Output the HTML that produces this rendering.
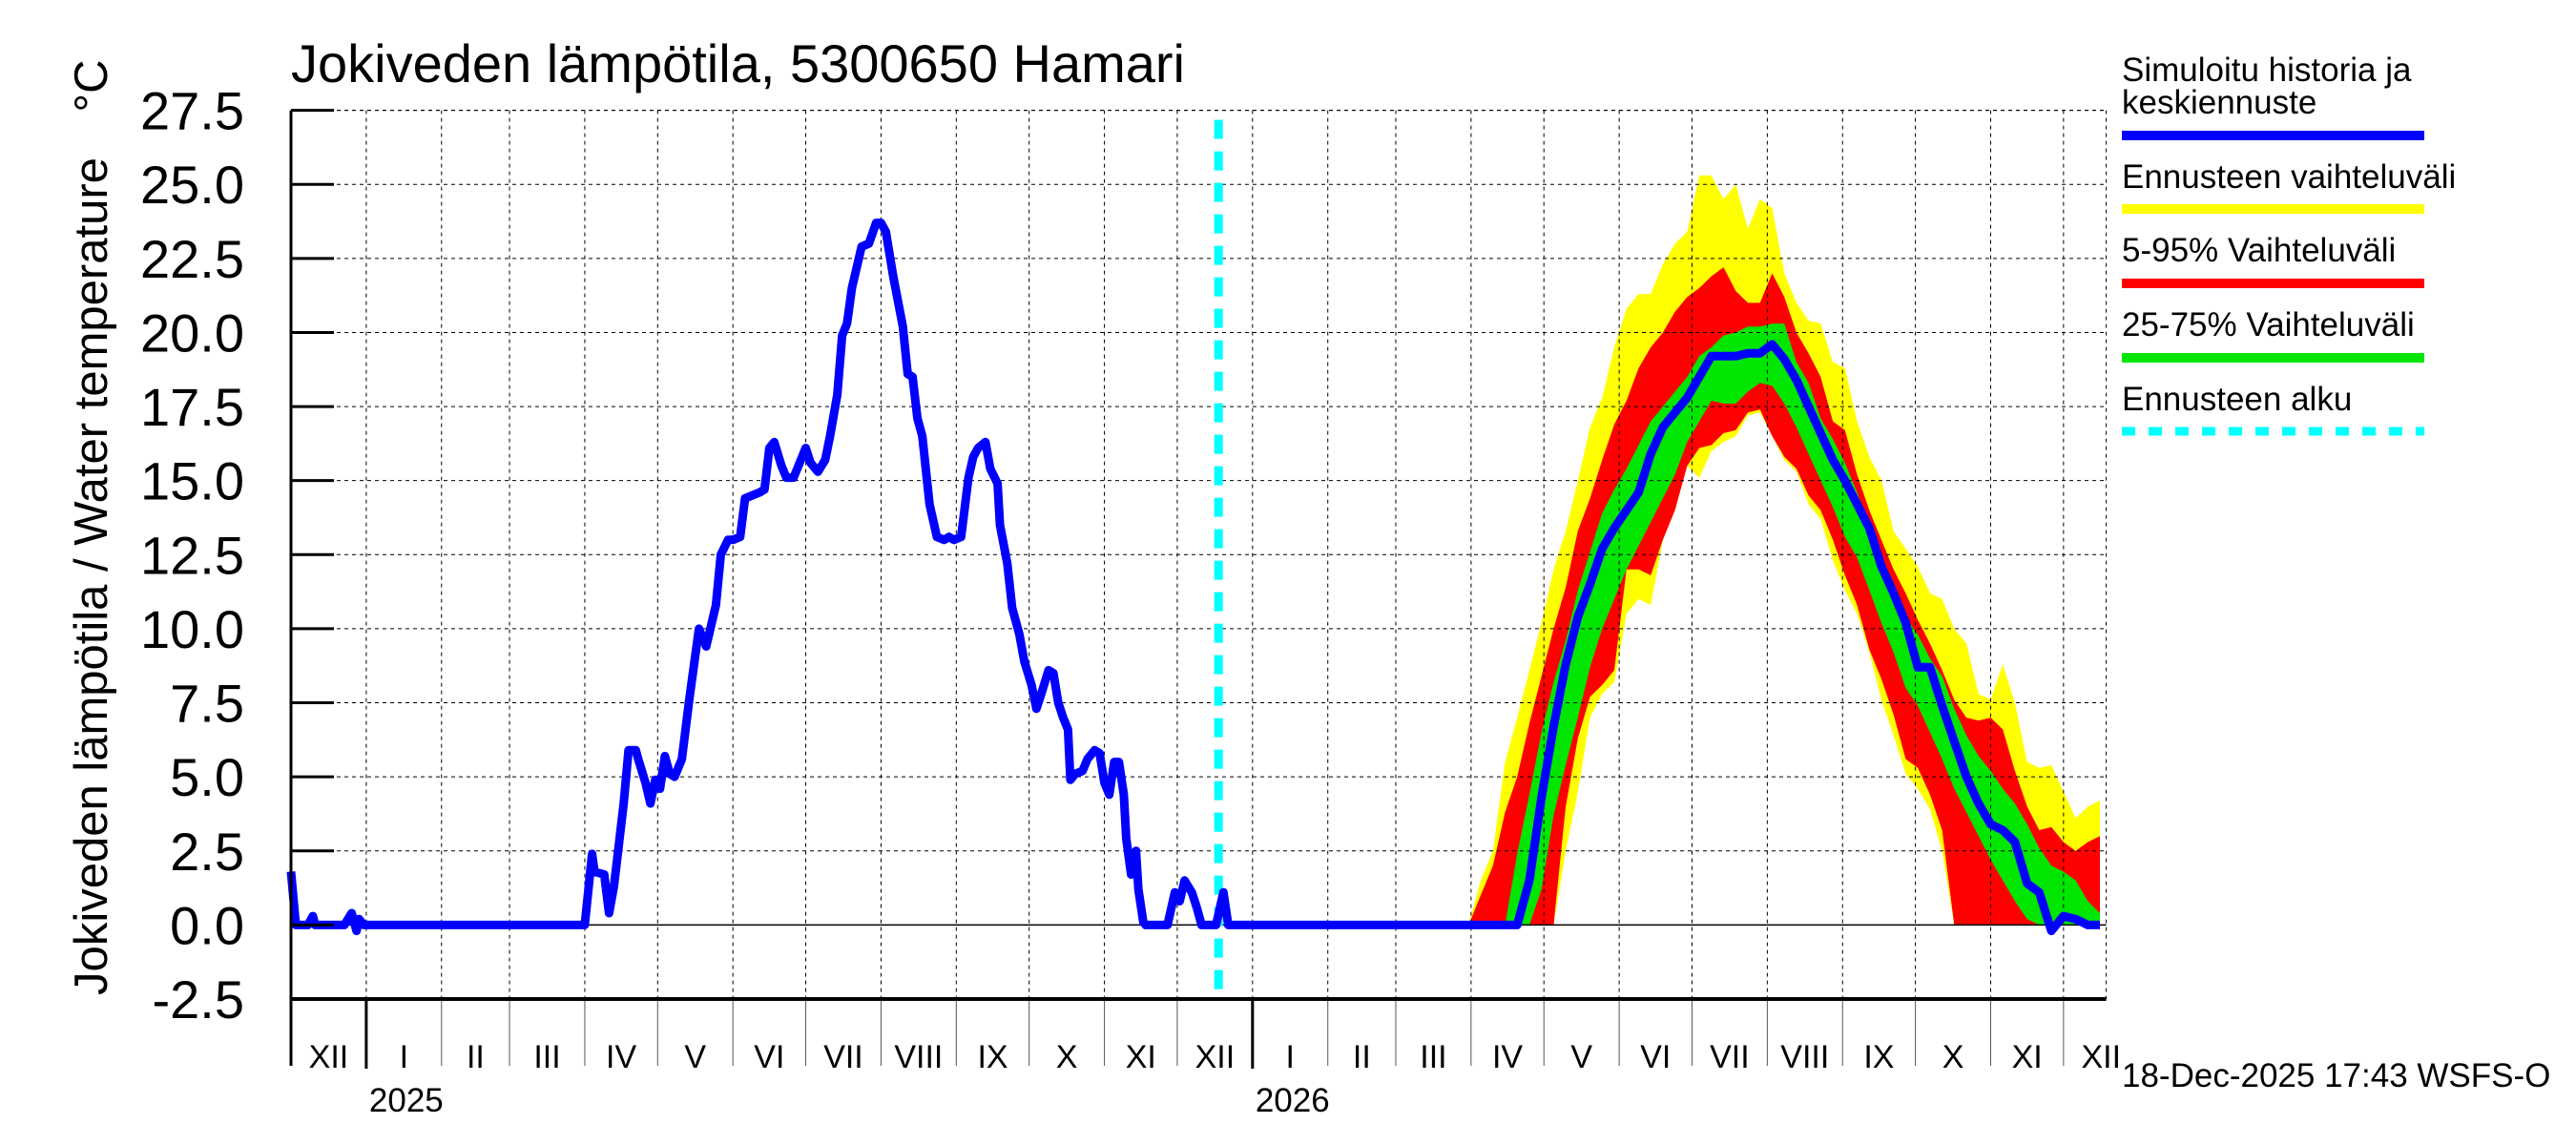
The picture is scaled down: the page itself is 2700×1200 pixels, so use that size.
<!DOCTYPE html>
<html><head><meta charset="utf-8"><style>
html,body{margin:0;padding:0;background:#fff;}
svg{display:block;font-family:"Liberation Sans",Arial,sans-serif;}
</style></head><body>
<svg id="chart" width="2700" height="1200" viewBox="0 0 2700 1200" xmlns="http://www.w3.org/2000/svg">
<rect x="0" y="0" width="2700" height="1200" fill="#fff"/>
<g id="bands"></g><g id="grid"></g><g id="lines"></g><g id="axes"></g>
<text x="305" y="86" font-size="56">Jokiveden lämpötila, 5300650 Hamari</text>
<text transform="translate(112,604) rotate(-90)" text-anchor="middle" font-size="49">Jokiveden lämpötila / Water temperature</text>
<text transform="translate(112,90) rotate(-90)" text-anchor="middle" font-size="49">°C</text>
<g font-size="35">
<text x="2224" y="85">Simuloitu historia ja</text>
<text x="2224" y="119">keskiennuste</text>
<rect x="2224" y="137" width="317" height="10" fill="#0000ff"/>
<text x="2224" y="197">Ennusteen vaihteluväli</text>
<rect x="2224" y="214" width="317" height="10" fill="#ffff00"/>
<text x="2224" y="274">5-95% Vaihteluväli</text>
<rect x="2224" y="292" width="317" height="10" fill="#ff0000"/>
<text x="2224" y="352">25-75% Vaihteluväli</text>
<rect x="2224" y="370" width="317" height="10" fill="#00e600"/>
<text x="2224" y="430">Ennusteen alku</text>
<line x1="2224" y1="452" x2="2541" y2="452" stroke="#00ffff" stroke-width="9" stroke-dasharray="14,14"/>
</g>
<text x="2224" y="1139" font-size="35">18-Dec-2025 17:43 WSFS-O</text>
</svg>
<script>
const yTicks = [-2.5,0,2.5,5,7.5,10,12.5,15,17.5,20,22.5,25,27.5];
const monthLabels = ["XII","I","II","III","IV","V","VI","VII","VIII","IX","X","XI","XII","I","II","III","IV","V","VI","VII","VIII","IX","X","XI","XII"];
const monthLengths = [31,31,28,31,30,31,30,31,31,30,31,30,31,31,28,31,30,31,30,31,31,30,31,30,31];
const yearLabels = ["2025","2026"];
const yearStartDays = [31,396];
const forecastStartDay = 382;
const histDays = [0,2,7,9,10,22,25,27,28,30,121,124,125,129,131,133,137,139,142,143,146,148,150,152,154,156,158,161,164,166,168,171,175,177,180,182,185,187,190,193,195,197,199,202,204,207,209,212,214,217,220,222,225,227,229,231,235,238,241,243,245,248,252,254,256,258,260,263,266,269,271,273,276,279,281,283,286,288,291,292,295,297,300,302,305,307,309,312,314,316,318,320,321,323,326,328,331,333,335,337,339,341,343,344,346,348,349,351,352,361,364,366,368,371,373,375,381,384,386,485];
const histVals = [1.8,0,0,0.3,0,0,0.4,-0.2,0.2,0,0,2.4,1.8,1.7,0.4,1.3,4.1,5.9,5.9,5.6,4.8,4.1,4.9,4.6,5.7,5.1,5.0,5.6,7.6,8.8,10.0,9.4,10.8,12.5,13.0,13.0,13.1,14.4,14.5,14.6,14.7,16.1,16.3,15.5,15.1,15.1,15.5,16.1,15.6,15.3,15.7,16.5,17.9,19.9,20.3,21.5,22.9,23.0,23.7,23.7,23.4,21.9,20.2,18.6,18.5,17.1,16.5,14.2,13.1,13.0,13.1,13.0,13.1,15.1,15.8,16.1,16.3,15.4,14.9,13.5,12.2,10.7,9.8,8.9,8.1,7.3,7.8,8.6,8.5,7.5,7.0,6.6,4.9,5.1,5.2,5.6,5.9,5.8,4.8,4.4,5.5,5.5,4.4,2.9,1.7,2.5,1.2,0.1,0,0,1.1,0.8,1.5,1.1,0.6,0,0,1.1,0,0];
const fcStart = 485, fcStep = 5;
const yellowHi = [0,1.5,2.5,5.5,7,8.6,10.2,12,13.3,15,16.8,17.8,19.5,20.8,21.3,21.3,22.3,23,23.4,25.3,25.3,24.5,25,23.5,24.5,24.2,22,21,20.4,20.3,19,18.8,17,15.8,15,13.3,12.7,12.1,11.2,11,10,9.5,7.8,7.6,8.8,7.5,5.5,5.3,5.4,4.5,3.6,4,4.2];
const yellowLo = [0,0,0,0,0,0,0,0,2.5,4.5,7,7.8,8.2,10.5,11,10.8,13,14,15.5,15.1,16,16.3,16.5,17.2,17.3,16.5,15.7,15.3,14.2,13.7,12.3,11.3,10.5,9.2,7.6,6.4,5.1,4.6,3.9,2.5,0,0,0,0,0,0,0,0,0,0,0,0,0];
const redHi = [0,1,2,3.8,5,6.8,8.4,10,11.4,13.3,14.4,15.7,16.9,17.7,18.8,19.5,20,20.7,21.2,21.5,21.9,22.2,21.4,21,21,22,21.2,20,19.3,18.5,17,16.7,15.2,14,13,12,11.2,10.3,9.5,8.6,7.6,7,6.9,7,6.6,5.2,4,3.2,3.3,2.8,2.5,2.8,3];
const redLo = [0,0,0,0,0,0,0,0,4,6.3,7.7,8.1,8.6,12,12,11.8,13,14,15.5,16.1,16.2,16.6,16.7,17.3,17.4,16.5,15.8,15.4,14.5,14,13,11.8,10.8,9.3,8.3,7.1,5.6,5.3,4.4,3.2,0,0,0,0,0,0,0,0,0,0,0,0,0];
const greenHi = [0,0,0,0,2.4,4.4,6.5,8.2,9.6,11.3,12.6,13.9,14.7,15.4,16.2,17,17.5,18,18.5,19.2,19.5,19.9,20,20.2,20.2,20.3,20.3,19,18.3,17.1,16.4,15.6,14.6,13.4,12.3,11.4,10.4,9.8,9,8.4,7.3,6.4,5.7,5.2,4.6,4.1,3.4,2.6,2,1.8,1.5,0.8,0.4];
const greenLo = [0,0,0,0,0,0,1.2,3.7,5.4,7,8.7,10,11,12,12.8,13.6,14.4,15.2,16.3,17,17.7,17.6,17.6,18,18.3,18.2,17.6,16.8,15.9,15,14.1,13.1,12.4,11.3,10.2,9.2,8,7.4,6.5,5.6,4.6,3.8,3,2.2,1.5,0.8,0.2,0,0,0,0,0,0];
const median = [0,0,0,0,0,1.5,4.3,6.7,8.8,10.4,11.5,12.7,13.4,14,14.6,15.9,16.8,17.3,17.8,18.5,19.2,19.2,19.2,19.3,19.3,19.6,19.1,18.4,17.5,16.6,15.7,15,14.2,13.4,12.1,11.2,10.2,8.7,8.7,7.4,6.2,5,4.1,3.4,3.2,2.8,1.4,1.1,-0.2,0.3,0.2,0,0];

const NS="http://www.w3.org/2000/svg";
const X0=305, X1=2207.6, PXD=2.545, YTOP=115.6, YBOT=1047;
const xs = d => X0 + d*PXD;
const ys = v => YBOT - (v+2.5)*(YBOT-YTOP)/30;
function mk(tag, attrs, parent){const e=document.createElementNS(NS,tag);for(const k in attrs)e.setAttribute(k,attrs[k]);parent.appendChild(e);return e;}
const gB=document.getElementById('bands'), gG=document.getElementById('grid'), gL=document.getElementById('lines'), gA=document.getElementById('axes');
const fcDay = k => Math.min(fcStart+k*fcStep, (X1-X0)/PXD);
function band(hi, lo, color, name){
  let pts=[];
  hi.forEach((v,k)=>pts.push(xs(fcDay(k)).toFixed(1)+','+ys(v).toFixed(1)));
  for(let k=lo.length-1;k>=0;k--) pts.push(xs(fcDay(k)).toFixed(1)+','+ys(lo[k]).toFixed(1));
  const p=mk('polygon',{points:pts.join(' '),fill:color},gB);
  
  
}
band(yellowHi,yellowLo,'#ffff00','band-forecast-range');
band(redHi,redLo,'#ff0000','band-5-95');
band(greenHi,greenLo,'#00e600','band-25-75');
yTicks.forEach(v=>{
  if(v===-2.5) return;
  const l=mk('line',{x1:X0,x2:X1,y1:ys(v),y2:ys(v),stroke:'#000','stroke-width':v===0?1.5:1,'stroke-dasharray':v===0?'none':'4,4'},gG);
  
  
});
let d=0;
monthLabels.forEach((lab,i)=>{
  const len=monthLengths[i];
  const xa=xs(d);
  if(i>0){
    const l=mk('line',{x1:xa,x2:xa,y1:YTOP,y2:YBOT,stroke:'#000','stroke-width':1,'stroke-dasharray':'4,4'},gG);
    
    
  }
  const isYear = yearStartDays.includes(d);
  const t=mk('line',{x1:xa,x2:xa,y1:YBOT,y2:isYear?1120:1117,stroke:isYear?'#000':'#555','stroke-width':isYear?3:1},gA);
  
  
  const tx=mk('text',{x:(xs(d)+xs(d+len))/2,y:1119,'text-anchor':'middle','font-size':34},gA);
  tx.textContent=lab;
  
  
  d+=len;
});
yearLabels.forEach((y,i)=>{
  const t=mk('text',{x:xs(yearStartDays[i])+3,y:1165,'font-size':35},gA);
  t.textContent=y;
  
  
});
mk('line',{x1:X1,x2:X1,y1:YTOP,y2:YBOT,stroke:'#000','stroke-width':1,'stroke-dasharray':'4,4'},gG);
mk('line',{x1:X0,x2:X1,y1:YTOP,y2:YTOP,stroke:'#000','stroke-width':1,'stroke-dasharray':'4,4'},gG);
const fl=mk('line',{x1:xs(forecastStartDay),x2:xs(forecastStartDay),y1:YTOP+10,y2:YBOT,stroke:'#00ffff','stroke-width':9,'stroke-dasharray':'20,13'},gL);


let pts=histDays.map((dd,i)=>xs(dd).toFixed(1)+','+ys(histVals[i]).toFixed(1));
median.forEach((v,k)=>pts.push(xs(fcDay(k)).toFixed(1)+','+ys(v).toFixed(1)));
const hl=mk('polyline',{points:pts.join(' '),fill:'none',stroke:'#0000ff','stroke-width':9,'stroke-linejoin':'round'},gL);


mk('line',{x1:X0,x2:X0,y1:YTOP,y2:1117,stroke:'#000','stroke-width':3},gA);
mk('line',{x1:X0,x2:X1,y1:YBOT,y2:YBOT,stroke:'#000','stroke-width':4},gA);
yTicks.forEach(v=>{
  mk('line',{x1:X0,x2:X0+45,y1:ys(v),y2:ys(v),stroke:'#000','stroke-width':3},gA);
  const t=mk('text',{x:256,y:ys(v)+20,'text-anchor':'end','font-size':56},gA);
  t.textContent=v.toFixed(1);
  
  
});
</script>
</body></html>
